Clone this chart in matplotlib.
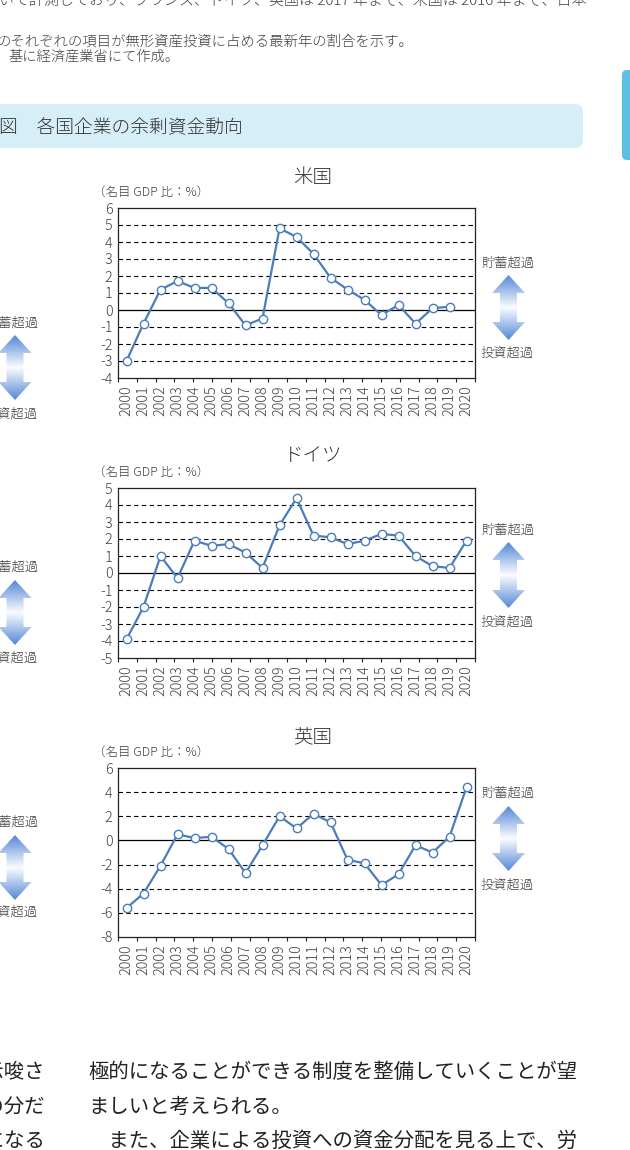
import numpy as np
import matplotlib
matplotlib.use("Agg")
import matplotlib.pyplot as plt
from matplotlib.patches import Polygon, FancyBboxPatch

# data (企業の余剰資金, 名目GDP比 %)
years = [2000, 2001, 2002, 2003, 2004, 2005, 2006, 2007, 2008, 2009, 2010,
         2011, 2012, 2013, 2014, 2015, 2016, 2017, 2018, 2019, 2020]
us_vals = [-3.0, -0.8, 1.2, 1.7, 1.3, 1.3, 0.4, -0.9, -0.5, 4.8, 4.3,
           3.3, 1.9, 1.2, 0.6, -0.3, 0.3, -0.8, 0.1, 0.2, np.nan]
de_vals = [-3.9, -2.0, 1.0, -0.3, 1.9, 1.6, 1.7, 1.2, 0.3, 2.8, 4.4,
           2.2, 2.1, 1.7, 1.9, 2.3, 2.2, 1.0, 0.4, 0.3, 1.9]
uk_vals = [-5.6, -4.4, -2.1, 0.5, 0.2, 0.3, -0.7, -2.7, -0.4, 2.0, 1.0,
           2.2, 1.5, -1.6, -1.9, -3.7, -2.8, -0.4, -1.0, 0.3, 4.4]
titles = ["米国", "ドイツ", "英国"]
unit_label = "（名目 GDP 比：%）"
fig_title = "図　各国企業の余剰資金動向"

plt.rcParams["font.family"] = ["Noto Sans CJK JP", "DejaVu Sans"]
plt.rcParams["axes.unicode_minus"] = False

W, H = 630, 1150
TXT = "#404040"
LINE = "#4a7dba"
LIGHT = "light"

fig = plt.figure(figsize=(6.3, 11.5), dpi=100)

# page layer in pixel coordinates (y down)
page = fig.add_axes([0, 0, 1, 1])
page.axis("off")
page.set_zorder(0)


def arrow(cx, y0, y1):
    hw, sw, hl = 16.5, 8.5, 18
    pts = [(cx, y0), (cx + hw, y0 + hl), (cx + sw, y0 + hl), (cx + sw, y1 - hl),
           (cx + hw, y1 - hl), (cx, y1), (cx - hw, y1 - hl), (cx - sw, y1 - hl),
           (cx - sw, y0 + hl), (cx - hw, y0 + hl)]
    poly = Polygon(pts, closed=True, facecolor="none", edgecolor="none")
    page.add_patch(poly)
    t = np.linspace(0, 1, 200)
    s = 1 - np.abs(2 * t - 1)
    blue = np.array([0.33, 0.53, 0.84])
    white = np.array([0.98, 0.99, 1.0])
    grad = blue[None, :] + (white - blue)[None, :] * s[:, None]
    im = page.imshow(grad[:, None, :], extent=(cx - hw, cx + hw, y1, y0),
                     aspect="auto", interpolation="bilinear")
    im.set_clip_path(poly)


def side_labels(x_text, ha, y_top, a0, a1, y_bot, cx):
    page.text(x_text, y_top, "貯蓄超過", ha=ha, va="center", fontsize=9.5,
              color=TXT, fontweight=LIGHT)
    page.text(x_text, y_bot, "投資超過", ha=ha, va="center", fontsize=9.5,
              color=TXT, fontweight=LIGHT)
    arrow(cx, a0, a1)


def chart(top, bottom, vals, lo, hi, step):
    ax = fig.add_axes([118 / W, 1 - bottom / H, (475 - 118) / W, (bottom - top) / H])
    ax.set_zorder(1)
    x = np.arange(len(years))
    ax.plot(x, vals, color=LINE, lw=1.6, marker="o", ms=6, mfc="white",
            mec=LINE, mew=1.0, zorder=4, clip_on=False)
    ax.set_xlim(-0.5, len(years) - 0.5)
    ax.set_ylim(lo, hi)
    yt = np.arange(lo, hi + step / 2, step)
    ax.set_yticks(yt)
    ax.set_yticklabels([str(int(v)) for v in yt], fontweight=LIGHT)
    ax.set_xticks(x)
    ax.set_xticklabels([str(y) for y in years], rotation=90, fontweight=LIGHT)
    ax.set_xticks(np.linspace(-0.5, len(years) - 0.5, 20), minor=True)
    ax.tick_params(axis="x", which="major", length=0, pad=5, labelsize=10.3, labelcolor=TXT)
    ax.tick_params(axis="x", which="minor", length=3, width=0.8, color="#222")
    ax.tick_params(axis="y", length=0, pad=4, labelsize=10.3, labelcolor=TXT)
    for v in yt:
        if v not in (lo, hi, 0):
            ax.axhline(v, color="black", lw=0.8, ls=(0, (4, 3)), zorder=1)
    ax.axhline(0, color="black", lw=0.9, zorder=2)
    for s in ax.spines.values():
        s.set_color("#222")
        s.set_linewidth(0.9)
    return ax


# top text (continuation of notes)
page.text(-1, 1, "いて計測しており、フランス、ドイツ、英国は 2017 年まで、米国は 2016 年まで、日本",
          ha="left", va="center", fontsize=10.8, color=TXT, fontweight=LIGHT)
page.text(-3, 42, "のそれぞれの項目が無形資産投資に占める最新年の割合を示す。",
          ha="left", va="center", fontsize=10.4, color=TXT, fontweight=LIGHT)
page.text(8, 57, "基に経済産業省にて作成。", ha="left", va="center", fontsize=10.3,
          color=TXT, fontweight=LIGHT)

# header band and page tab
page.add_patch(FancyBboxPatch((-20, 104), 603, 44, boxstyle="round,pad=0,rounding_size=8",
                              facecolor="#d6eef8", edgecolor="none"))
page.text(-1, 127, fig_title, ha="left", va="center", fontsize=13.5, color="#333333",
          fontweight=LIGHT)
page.add_patch(FancyBboxPatch((622, 70), 30, 90, boxstyle="round,pad=0,rounding_size=5",
                              facecolor="#5bbfe6", edgecolor="none"))

# charts
layout = [
    # axes top/bottom, title y, unit y, right labels, left labels
    (208, 378, 177, 192, (263, 275, 340, 353), (323, 335, 400, 414)),
    (488, 658, 455, 472, (530, 542, 608, 622), (567, 580, 645, 658)),
    (768, 937, 737, 752, (793, 806, 871, 885), (822, 835, 900, 912)),
]
series = [(us_vals, -4, 6, 1), (de_vals, -5, 5, 1), (uk_vals, -8, 6, 2)]

for (top, bot, ty, uy, r, l), (vals, lo, hi, step), ttl in zip(layout, series, titles):
    chart(top, bot, vals, lo, hi, step)
    page.text(313, ty, ttl, ha="center", va="center", fontsize=14, color="#333333",
              fontweight=LIGHT)
    page.text(93, uy, unit_label, ha="left", va="center", fontsize=9, color=TXT,
              fontweight=LIGHT)
    side_labels(481, "left", r[0], r[1], r[2], r[3], 508.5)
    side_labels(38, "right", l[0], l[1], l[2], l[3], 15)

# body text below
left_frag = ["が示唆さ", "その分だ", "ことになる"]
right_lines = ["極的になることができる制度を整備していくことが望",
               "ましいと考えられる。",
               "　また、企業による投資への資金分配を見る上で、労"]
for y, a, b in zip([1072, 1107, 1141], left_frag, right_lines):
    page.text(45, y, a, ha="right", va="center", fontsize=14.7, color="#222222")
    page.text(88, y, b, ha="left", va="center", fontsize=14.7, color="#222222")

page.set_xlim(0, W)
page.set_ylim(H, 0)

fig.savefig("out.png", dpi=100)
